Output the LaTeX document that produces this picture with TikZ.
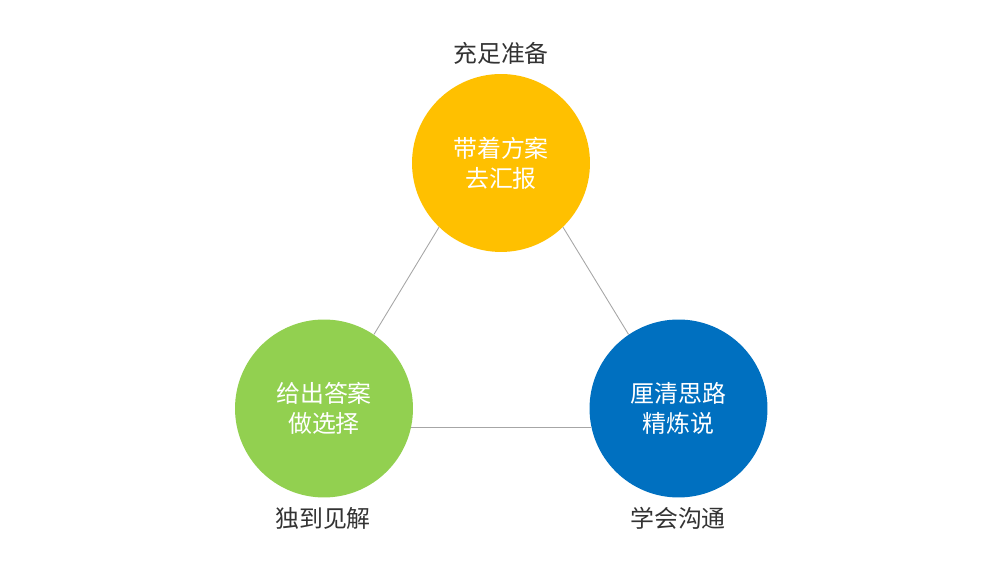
\documentclass[tikz,border=0pt]{standalone}
\usepackage{fontspec}
\setmainfont{Noto Sans CJK SC}
\definecolor{jaune}{HTML}{FFC000}
\definecolor{verde}{HTML}{92D050}
\definecolor{azul}{HTML}{0070C0}
\definecolor{gris}{HTML}{A6A6A6}
\definecolor{texto}{HTML}{333333}
\tikzset{
  bola/.style={circle, minimum size=3.56cm, inner sep=0pt, text=white, align=center,
    font=\fontsize{13.6pt}{17pt}\selectfont},
  etiqueta/.style={text=texto, font=\fontsize{13.6pt}{17pt}\selectfont},
  lado/.style={gris, line width=0.5pt}
}
\begin{document}
\begin{tikzpicture}[x=0.02cm,y=0.02cm]
    \useasboundingbox (0,0) rectangle (1000,563);

    % Circulos
    \node[bola, fill=jaune] (plan) at (501,400) {带着方案\\去汇报};
    \node[bola, fill=verde] (opcion) at (324,154.5) {给出答案\\做选择};
    \node[bola, fill=azul] (idea) at (678.5,154.5) {厘清思路\\精炼说};

    % Lados del triangulo
    \draw[lado] (plan.226) -- (opcion.56);
    \draw[lado] (plan.-46) -- (idea.124);
    \draw[lado] (opcion.-12) -- (idea.192);

    % Etiquetas
    \node[etiqueta] (prep) at (501,510) {充足准备};
    \node[etiqueta] (vision) at (323,45) {独到见解};
    \node[etiqueta] (charla) at (678,45) {学会沟通};
\end{tikzpicture}
\end{document}
